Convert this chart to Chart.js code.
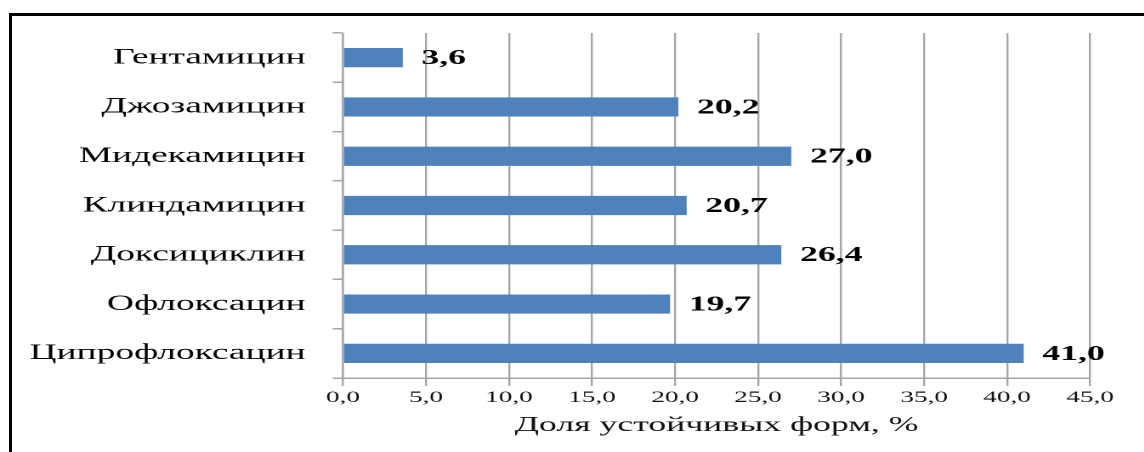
<!DOCTYPE html>
<html>
<head>
<meta charset="utf-8">
<script src="https://cdn.jsdelivr.net/npm/chart.js@4/dist/chart.umd.min.js"></script>
<style>
    body { margin: 0; background: #fff; width: 1144px; height: 452px; overflow: hidden; position: relative; }
    /* picture frame: only top and left edges are visible in the reference */
    #frame { position: absolute; left: 9px; top: 13px; right: -10px; bottom: -10px;
             border-left: 3px solid #000; border-top: 3px solid #000; }
    /* the original figure is stretched horizontally */
    #chart { position: absolute; left: 0; top: 0; transform: scaleX(1.7); transform-origin: 0 0; }
</style>
</head>
<body>
<div id="frame"></div>
<canvas id="chart" width="673" height="452"></canvas>
<script>
// Data
const antibiotics = ['Гентамицин', 'Джозамицин', 'Мидекамицин', 'Клиндамицин', 'Доксициклин', 'Офлоксацин', 'Ципрофлоксацин'];
const resistantShare = [3.6, 20.2, 27.0, 20.7, 26.4, 19.7, 41.0];
const axisMin = 0;
const axisMax = 45;
const axisStep = 5;
const axisTitle = 'Доля устойчивых форм, %';

const STRETCH = 1.7;
const FONT = "'Liberation Serif', 'Times New Roman', serif";

function formatComma(v) {
    return Number(v).toFixed(1).replace('.', ',');
}

// Draws the bold value next to each bar
const valueLabels = {
    id: 'valueLabels',
    afterDatasetsDraw(chart) {
        const ctx = chart.ctx;
        const meta = chart.getDatasetMeta(0);
        ctx.save();
        ctx.font = 'bold 21px ' + FONT;
        ctx.fillStyle = '#000';
        ctx.textAlign = 'left';
        ctx.textBaseline = 'middle';
        meta.data.forEach((bar, i) => {
            ctx.fillText(formatComma(resistantShare[i]), bar.x + 11, bar.y + 1);
        });
        ctx.restore();
    }
};

new Chart(document.getElementById('chart'), {
    type: 'bar',
    data: {
        labels: antibiotics,
        datasets: [{
            data: resistantShare,
            backgroundColor: '#4F81BD',
            borderWidth: 0,
            barPercentage: 0.39,
            categoryPercentage: 1.0
        }]
    },
    options: {
        indexAxis: 'y',
        responsive: false,
        animation: false,
        devicePixelRatio: 2,
        layout: { padding: { top: 33, right: 1144 / STRETCH - 1090 / STRETCH, left: 0, bottom: 0 } },
        plugins: {
            legend: { display: false },
            tooltip: { enabled: false }
        },
        scales: {
            x: {
                min: axisMin,
                max: axisMax,
                afterFit(scale) { scale.height = 74; },
                ticks: {
                    stepSize: axisStep,
                    padding: 2,
                    color: '#111',
                    font: { family: FONT, size: 16 },
                    maxRotation: 0,
                    callback: v => formatComma(v)
                },
                grid: { color: '#A6A6A6', lineWidth: 1.2, tickLength: 8 },
                border: { color: '#A6A6A6', width: 1.5 },
                title: {
                    display: true,
                    text: axisTitle,
                    color: '#111',
                    font: { family: FONT, size: 21 },
                    padding: { top: 0, bottom: 14 }
                }
            },
            y: {
                afterFit(scale) { scale.width = 343 / STRETCH; },
                ticks: {
                    padding: 16,
                    color: '#000',
                    font: { family: FONT, size: 22 }
                },
                grid: { drawOnChartArea: false, color: '#A6A6A6', lineWidth: 1.5, tickLength: 6 },
                border: { color: '#A6A6A6', width: 1.2 }
            }
        }
    },
    plugins: [valueLabels]
});
</script>
</body>
</html>
